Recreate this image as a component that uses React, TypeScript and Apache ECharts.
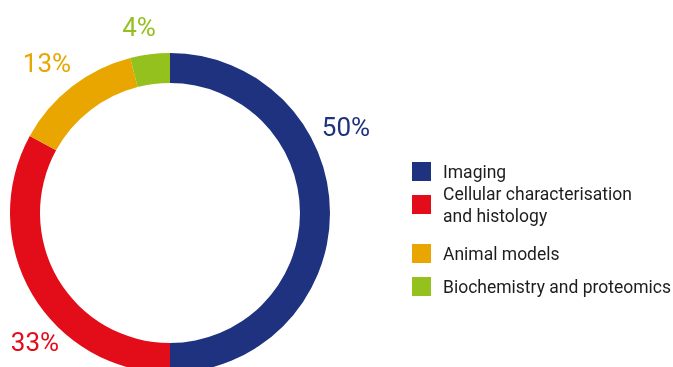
import React, { useEffect, useRef } from "react";
import * as echarts from "echarts";

const categories = [
  "Imaging",
  "Cellular characterisation and histology",
  "Animal models",
  "Biochemistry and proteomics",
];
const values = [50, 33, 13, 4];
const colors = ["#1f327f", "#e30c19", "#e9a600", "#95c11f"];
const labelPos: [number, number][] = [
  [346, 127],
  [35, 342],
  [47, 63],
  [139, 27],
];
const legendTops = [160.5, 171.5, 242.5, 275.5];

export default function App() {
  const ref = useRef<HTMLDivElement>(null);
  useEffect(() => {
    if (!ref.current) return;
    const chart = echarts.init(ref.current, null, { renderer: "svg" });
    const legends = categories.map((name, i) => ({
      orient: "vertical",
      left: 412,
      top: legendTops[i],
      padding: 0,
      data: [name],
      icon: "rect",
      itemWidth: 19,
      itemHeight: 19,
      selectedMode: false,
      formatter: (n: string) =>
        n === "Cellular characterisation and histology"
          ? "Cellular characterisation\nand histology"
          : n,
      textStyle: {
        fontFamily: "Roboto",
        fontSize: 17.5,
        color: "#1d1d1b",
        lineHeight: 22,
        padding: i === 1 ? [22, 0, 0, 7] : [0, 0, 0, 7],
      },
    }));
    chart.setOption({
      animation: false,
      color: colors,
      legend: legends,
      series: [
        {
          type: "pie",
          center: [170, 213],
          radius: [130, 160],
          startAngle: 90,
          clockwise: true,
          silent: true,
          data: categories.map((name, i) => ({ name, value: values[i] })),
          label: {
            show: true,
            position: "inside",
            formatter: (p: any) => `${p.value}%`,
            fontFamily: "Roboto",
            fontSize: 26,
            color: "inherit",
            overflow: "none",
          },
          labelLine: { show: false },
          labelLayout: (p: any) => ({
            x: labelPos[p.dataIndex][0],
            y: labelPos[p.dataIndex][1],
            align: "center",
            verticalAlign: "middle",
          }),
        },
      ],
    });
    return () => chart.dispose();
  }, []);
  return (
    <div
      ref={ref}
      style={{ position: "fixed", left: 0, top: 0, width: 673, height: 367 }}
    />
  );
}
